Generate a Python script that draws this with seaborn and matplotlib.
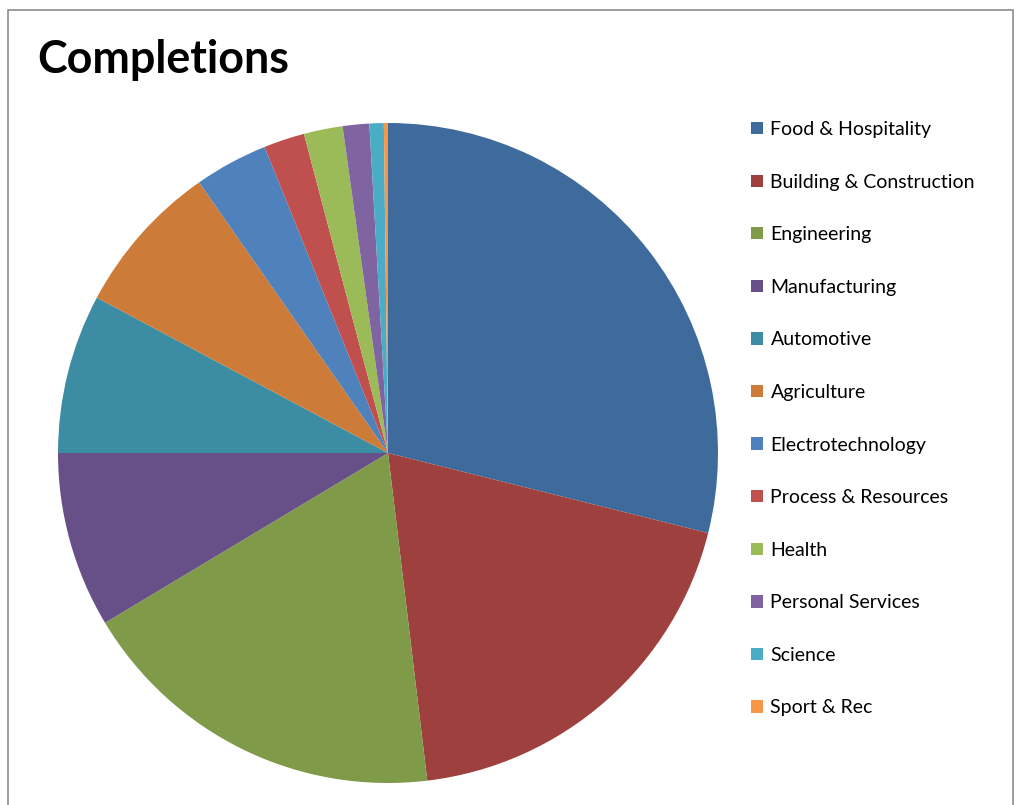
import matplotlib
matplotlib.use("Agg")
import matplotlib.pyplot as plt
import seaborn as sns
from matplotlib.patches import Rectangle

categories = ["Food & Hospitality", "Building & Construction", "Engineering", "Manufacturing",
              "Automotive", "Agriculture", "Electrotechnology", "Process & Resources",
              "Health", "Personal Services", "Science", "Sport & Rec"]
# share of completions (%)
shares = [28.9, 19.2, 18.3, 8.6, 7.8, 7.5, 3.6, 2.0, 1.9, 1.3, 0.7, 0.2]
colors = ["#3F6A9C", "#9E403E", "#7F9A48", "#674F88", "#3C8DA3", "#CC7B38",
          "#4F81BD", "#C0504D", "#9BBB59", "#8064A2", "#4BACC6", "#F79646"]

sns.set_theme(style="white")
plt.rcParams['font.family'] = ['Lato', 'DejaVu Sans']

W, H = 1015, 805
fig = plt.figure(figsize=(W / 100, H / 100), dpi=100)
fig.patch.set_facecolor("white")

# chart frame (bottom edge runs off the picture)
fig.patches.append(Rectangle((8 / W, -0.05), (W - 10) / W, 1.05 - 10 / H, transform=fig.transFigure,
                             fill=False, edgecolor="#8C8C8C", linewidth=1.2))

cx, cy, r = 388, 453, 330
ax = fig.add_axes([(cx - r) / W, (H - cy - r) / H, 2 * r / W, 2 * r / H])
wedges, _ = ax.pie(shares, colors=colors, startangle=90, counterclock=False,
                   wedgeprops=dict(linewidth=0))
ax.set_xlim(-1, 1)
ax.set_ylim(-1, 1)
ax.set_aspect("equal")
ax.axis("off")

fig.text(37 / W, 1 - 60 / H, "Completions", fontsize=32.3, fontweight="bold",
         color="black", va="center", ha="left")

leg = fig.legend(wedges, categories, loc="upper left", bbox_to_anchor=(751 / W, 1 - 121 / H),
                 frameon=False, fontsize=14, handlelength=0.6, handleheight=0.6,
                 handletextpad=0.4, labelspacing=1.83, borderaxespad=0, borderpad=0)
for t in leg.get_texts():
    t.set_color("black")

fig.savefig("out.png", dpi=100, facecolor="white")
